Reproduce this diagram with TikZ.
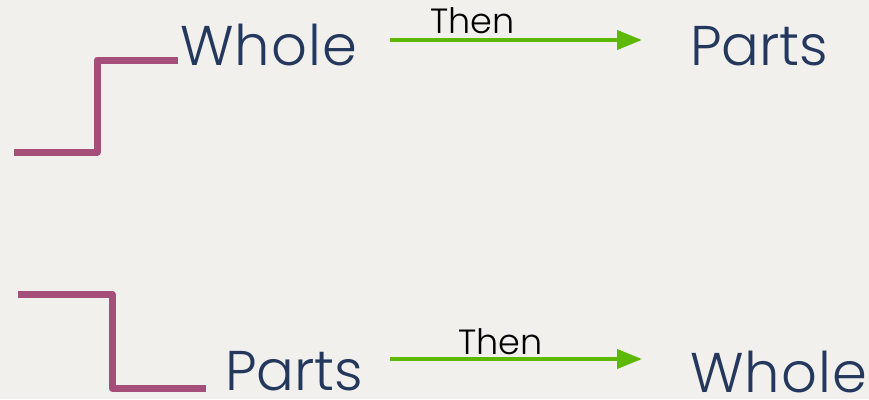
\documentclass[tikz,border=0pt]{standalone}
\usepackage{fontspec}
\setmainfont{Poppins}
\newfontfamily\thinfont{Poppins Light}
\newfontfamily\thinspaced[LetterSpace=2]{Poppins Light}
\usetikzlibrary{arrows.meta}
\definecolor{bgc}{HTML}{F1F0EC}
\definecolor{stepc}{HTML}{A64E7A}
\definecolor{navy}{HTML}{24385E}
\definecolor{arrowc}{HTML}{5CB800}
\tikzset{
  x=1pt,y=-1pt,
  stepline/.style={draw=stepc,line width=7pt,line join=round},
  bigword/.style={font=\thinfont\fontsize{56}{56}\selectfont,text=navy,inner sep=0pt,text depth=0pt,anchor=base west},
  wholeword/.style={bigword,font=\thinspaced\fontsize{56}{56}\selectfont},
  thenword/.style={font=\thinfont\fontsize{35}{35}\selectfont,text=black,inner sep=0pt,text depth=0pt,anchor=base west},
  thenarrow/.style={draw=arrowc,line width=4pt,-{Triangle[length=25pt,width=19pt]}}
}
\begin{document}
\begin{tikzpicture}
\fill[bgc] (0,0) rectangle (869,399);
\useasboundingbox (0,0) rectangle (869,399);
% top row
\coordinate (s1a) at (14,152);
\coordinate (s1b) at (97,152);
\coordinate (s1c) at (97,60);
\coordinate (s1d) at (178,60);
\draw[stepline] (s1a) -- (s1b) -- (s1c) -- (s1d);
\node[wholeword] (w1) at (180,65) {Whole};
\node[bigword] (p1) at (690,65) {Parts};
\coordinate (a1s) at (390,40);
\coordinate (a1e) at (642,40);
\draw[thenarrow] (a1s) -- (a1e);
\node[thenword] (t1) at (430,33) {Then};
% bottom row
\coordinate (s2a) at (18,294);
\coordinate (s2b) at (112,294);
\coordinate (s2c) at (112,388);
\coordinate (s2d) at (206,388);
\draw[stepline] (s2a) -- (s2b) -- (s2c) -- (s2d);
\node[bigword] (p2) at (225,390) {Parts};
\node[wholeword] (w2) at (690,392) {Whole};
\coordinate (a2s) at (390,359);
\coordinate (a2e) at (642,359);
\draw[thenarrow] (a2s) -- (a2e);
\node[thenword] (t2) at (458,354) {Then};
\end{tikzpicture}
\end{document}
